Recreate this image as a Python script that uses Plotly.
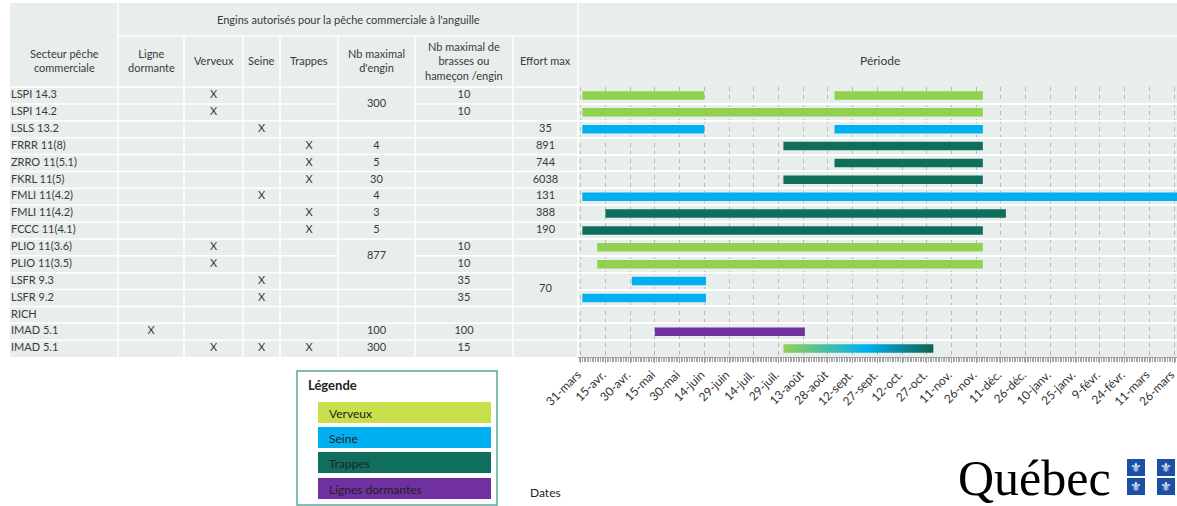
import pandas as pd
import plotly.graph_objects as go

# la marge du <body> est retirée au chargement (voir write_html)
OFF = 0
W, H = 1177, 506
FONT = "Lato"
TXT = "#3a3a3a"
BG = "#e8eeec"

# --- tableau ---
secteurs = ["LSPI 14.3", "LSPI 14.2", "LSLS 13.2", "FRRR 11(8)", "ZRRO 11(5.1)", "FKRL 11(5)",
            "FMLI 11(4.2)", "FMLI 11(4.2)", "FCCC 11(4.1)", "PLIO 11(3.6)", "PLIO 11(3.5)",
            "LSFR 9.3", "LSFR 9.2", "RICH", "IMAD 5.1", "IMAD 5.1"]
ligne_dormante = ["", "", "", "", "", "", "", "", "", "", "", "", "", "", "X", ""]
verveux = ["X", "X", "", "", "", "", "", "", "", "X", "X", "", "", "", "", "X"]
seine = ["", "", "X", "", "", "", "X", "", "", "", "", "X", "X", "", "", "X"]
trappes = ["", "", "", "X", "X", "X", "", "X", "X", "", "", "", "", "", "", "X"]
# None = cellule fusionnée avec celle du dessus
nb_engin = ["300", None, "", "4", "5", "30", "4", "3", "5", "877", None, "", "", "", "100", "300"]
nb_brasses = ["10", "10", "", "", "", "", "", "", "", "10", "10", "35", "35", "", "100", "15"]
effort_max = ["", "", "35", "891", "744", "6038", "131", "388", "190", "", "", "70", None, "", "", ""]

headers = ["Secteur pêche<br>commerciale", "Ligne<br>dormante", "Verveux", "Seine", "Trappes",
           "Nb maximal<br>d'engin", "Nb maximal de<br>brasses ou<br>hameçon /engin", "Effort max"]
titre_engins = "Engins autorisés pour la pêche commerciale à l'anguille"

# --- périodes de pêche ---
per_row = [0, 0, 1, 2, 2, 3, 4, 5, 6, 7, 8, 9, 10, 11, 12, 14]
per_gear = ["Verveux", "Verveux", "Verveux", "Seine", "Seine", "Trappes", "Trappes", "Trappes",
            "Seine", "Trappes", "Trappes", "Verveux", "Verveux", "Seine", "Seine", "Lignes dormantes"]
per_start = ["2018-04-01", "2018-09-01", "2018-04-01", "2018-04-01", "2018-09-01", "2018-08-01",
             "2018-09-01", "2018-08-01", "2018-04-01", "2018-04-15", "2018-04-01", "2018-04-10",
             "2018-04-10", "2018-05-01", "2018-04-01", "2018-05-15"]
per_end = ["2018-06-14", "2018-11-30", "2018-11-30", "2018-06-14", "2018-11-30", "2018-11-30",
           "2018-11-30", "2018-11-30", "2019-03-31", "2018-12-14", "2018-11-30", "2018-11-30",
           "2018-11-30", "2018-06-15", "2018-06-15", "2018-08-14"]
# IMAD 5.1 (tous engins) : barre en dégradé
mix_row, mix_start, mix_end = 15, "2018-08-01", "2018-10-31"

gear_colors = {"Verveux": "#92d050", "Seine": "#00b0f0", "Trappes": "#0f6f5c",
               "Lignes dormantes": "#7030a0"}
legend_labels = ["Verveux", "Seine", "Trappes", "Lignes dormantes"]
legend_colors = ["#c5e04a", "#00b0f0", "#0f6f5c", "#7030a0"]

tick_dates = ["2018-03-31", "2018-04-15", "2018-04-30", "2018-05-15", "2018-05-30", "2018-06-14",
              "2018-06-29", "2018-07-14", "2018-07-29", "2018-08-13", "2018-08-28", "2018-09-12",
              "2018-09-27", "2018-10-12", "2018-10-27", "2018-11-11", "2018-11-26", "2018-12-11",
              "2018-12-26", "2019-01-10", "2019-01-25", "2019-02-09", "2019-02-24", "2019-03-11",
              "2019-03-26"]
tick_labels = ["31-mars", "15-avr.", "30-avr.", "15-mai", "30-mai", "14-juin", "29-juin", "14-juil.",
               "29-juil.", "13-août", "28-août", "12-sept.", "27-sept.", "12-oct.", "27-oct.",
               "11-nov.", "26-nov.", "11-déc.", "26-déc.", "10-janv.", "25-janv.", "9-févr.",
               "24-févr.", "11-mars", "26-mars"]

# --- géométrie (pixels de la page) ---
T_TOP, T_H1, T_H2, T_BOT = 3, 36, 87, 357
col_edges = [10, 118, 184, 243, 280, 338, 415, 513, 578]
ROWH = (T_BOT - T_H2) / len(secteurs)
ORIGIN = pd.Timestamp("2018-03-31")
X0_PX, PX_PER_DAY = 580.7, (1174 - 580.7) / 360


def days(d):
    return (pd.to_datetime(d) - ORIGIN).days if isinstance(d, str) else (pd.to_datetime(d) - ORIGIN).dt.days


def px(x):
    return (x - OFF) / W


def py(y):
    return 1 - (y - OFF) / H


def ty(y):
    # pixel vertical -> unités de lignes du tableau
    return -0.5 + (y - T_H2) / ROWH


fig = go.Figure()

# barres de la période
df = pd.DataFrame({"row": per_row, "gear": per_gear, "start": per_start, "end": per_end})
df["s"] = days(df["start"])
df["e"] = days(df["end"])
for gear in legend_labels:
    d = df[df["gear"] == gear]
    fig.add_trace(go.Bar(
        orientation="h", y=d["row"], base=d["s"], x=d["e"] - d["s"],
        xaxis="x", yaxis="y2", width=0.5, marker_color=gear_colors[gear],
        marker_line_width=0, name=gear, hoverinfo="skip"
    ))

ms, me = days(mix_start), days(mix_end)
fig.add_trace(go.Scatter(
    x=[ms, me, me, ms, ms], y=[mix_row - 0.25, mix_row - 0.25, mix_row + 0.25, mix_row + 0.25, mix_row - 0.25],
    xaxis="x", yaxis="y2", mode="lines", line_width=0, fill="toself",
    fillgradient=dict(type="horizontal",
                      colorscale=[[0, "#92d050"], [0.55, "#00b0f0"], [1, "#0f6252"]]),
    hoverinfo="skip"
))

# contenu du tableau
columns = [secteurs, ligne_dormante, verveux, seine, trappes, nb_engin, nb_brasses, effort_max]
for j, vals in enumerate(columns):
    L, R = col_edges[j], col_edges[j + 1]
    xs, ys, ts = [], [], []
    for i, v in enumerate(vals):
        if not v:
            continue
        yc = i + 0.5 if (i + 1 < len(vals) and vals[i + 1] is None) else i
        xs.append(L + 1 if j == 0 else (L + R) / 2)
        ys.append(yc)
        ts.append(v)
    fig.add_trace(go.Scatter(
        x=xs, y=ys, text=ts, mode="text", xaxis="x2", yaxis="y",
        textposition="middle right" if j == 0 else "middle center",
        textfont=dict(family=FONT, size=11, color=TXT), hoverinfo="skip", cliponaxis=False
    ))

shapes = [dict(type="rect", xref="paper", yref="paper", x0=px(col_edges[0]), x1=px(1177),
               y0=py(T_BOT), y1=py(T_TOP), fillcolor=BG, line_width=0, layer="below")]
white = dict(color="white", width=1.5)
# séparateurs de lignes (sauf cellules fusionnées)
for j, vals in enumerate(columns):
    for i in range(len(vals) - 1):
        if vals[i + 1] is None:
            continue
        shapes.append(dict(type="line", xref="x2", yref="y", x0=col_edges[j], x1=col_edges[j + 1],
                           y0=i + 0.5, y1=i + 0.5, line=white, layer="below"))
for xe in col_edges[1:]:
    top = T_TOP if xe in (118, 578) else T_H1
    shapes.append(dict(type="line", xref="paper", yref="paper", x0=px(xe), x1=px(xe),
                       y0=py(top), y1=py(T_BOT), line=white, layer="below"))
shapes.append(dict(type="line", xref="paper", yref="paper", x0=px(118), x1=px(1177),
                   y0=py(T_H1), y1=py(T_H1), line=white, layer="below"))
shapes.append(dict(type="line", xref="paper", yref="paper", x0=px(10), x1=px(578),
                   y0=py(T_H2), y1=py(T_H2), line=white, layer="below"))

annotations = []


def note(x, y, text, size=11, color=TXT, xanchor="center", family=FONT):
    annotations.append(dict(x=px(x), y=py(y), xref="paper", yref="paper", text=text,
                            showarrow=False, xanchor=xanchor, yanchor="middle",
                            font=dict(family=family, size=size, color=color)))


for j, h in enumerate(headers):
    note((col_edges[j] + col_edges[j + 1]) / 2, 61, h)
note(348, 19, titre_engins)
note(880, 61, "Période", size=12)
note(545, 492, "Dates", size=12, color="#222")

# légende
shapes.append(dict(type="rect", xref="paper", yref="paper", x0=px(297), x1=px(497), y0=py(505), y1=py(371),
                   line=dict(color="#5aa89c", width=1.5), fillcolor="white"))
note(306, 385, "<b>Légende</b>", size=13, color="#222", xanchor="left")
sw_top = [402, 427, 452, 478]
for lab, col, t in zip(legend_labels, legend_colors, sw_top):
    shapes.append(dict(type="rect", xref="paper", yref="paper", x0=px(318), x1=px(491),
                       y0=py(t + 21), y1=py(t), fillcolor=col, line_width=0))
    note(327, t + 11, lab, size=12, color="#222", xanchor="left")

# logo Québec
note(956, 478, "Québec", size=50, color="black", xanchor="left", family="Liberation Serif")
for fx in (1127, 1157):
    for fy in (459, 478):
        shapes.append(dict(type="rect", xref="paper", yref="paper", x0=px(fx), x1=px(fx + 18),
                           y0=py(fy + 17), y1=py(fy), fillcolor="#1c4fa6", line_width=0))
        note(fx + 9, fy + 8.5, "⚜", size=13, color="white", family="DejaVu Sans")

fig.update_layout(
    width=W, height=H, margin=dict(l=0, r=0, t=0, b=0, autoexpand=False),
    paper_bgcolor="white", plot_bgcolor="rgba(0,0,0,0)",
    showlegend=False, barmode="overlay",
    shapes=shapes, annotations=annotations,
    xaxis=dict(domain=[px(578), 1], range=[(578 - X0_PX) / PX_PER_DAY, (1177 - X0_PX) / PX_PER_DAY],
               tickmode="array", tickvals=[days(d) for d in tick_dates], ticktext=tick_labels,
               tickangle=-45, tickfont=dict(family=FONT, size=12, color="#333"),
               ticklabeloverflow="allow", ticklabelshift=-3,
               ticks="outside", ticklen=5, tickcolor="#999",
               minor=dict(tickmode="linear", tick0=0, dtick=1, ticks="outside", ticklen=4,
                          tickcolor="#a5a5a5", showgrid=False),
               showgrid=True, gridcolor="#b8b8b8", griddash="4px,4px", gridwidth=1,
               showline=True, linecolor="#a0a0a0", zeroline=False, anchor="y2", automargin=False),
    yaxis2=dict(domain=[py(T_BOT), py(T_H2)], range=[15.5, -0.5],
                tickmode="array", tickvals=[i + 0.5 for i in range(-1, 15)],
                showticklabels=False, ticks="", gridcolor="white", gridwidth=1.5,
                zeroline=False, anchor="x", automargin=False),
    xaxis2=dict(domain=[0, px(578)], range=[OFF, 578], visible=False, anchor="y", automargin=False),
    yaxis=dict(domain=[py(T_BOT), 1], range=[15.5, ty(OFF)], visible=False, anchor="x2", automargin=False),
)

fig.write_html("out.html", config={"displayModeBar": False},
               post_script="document.body.style.margin='0';")
